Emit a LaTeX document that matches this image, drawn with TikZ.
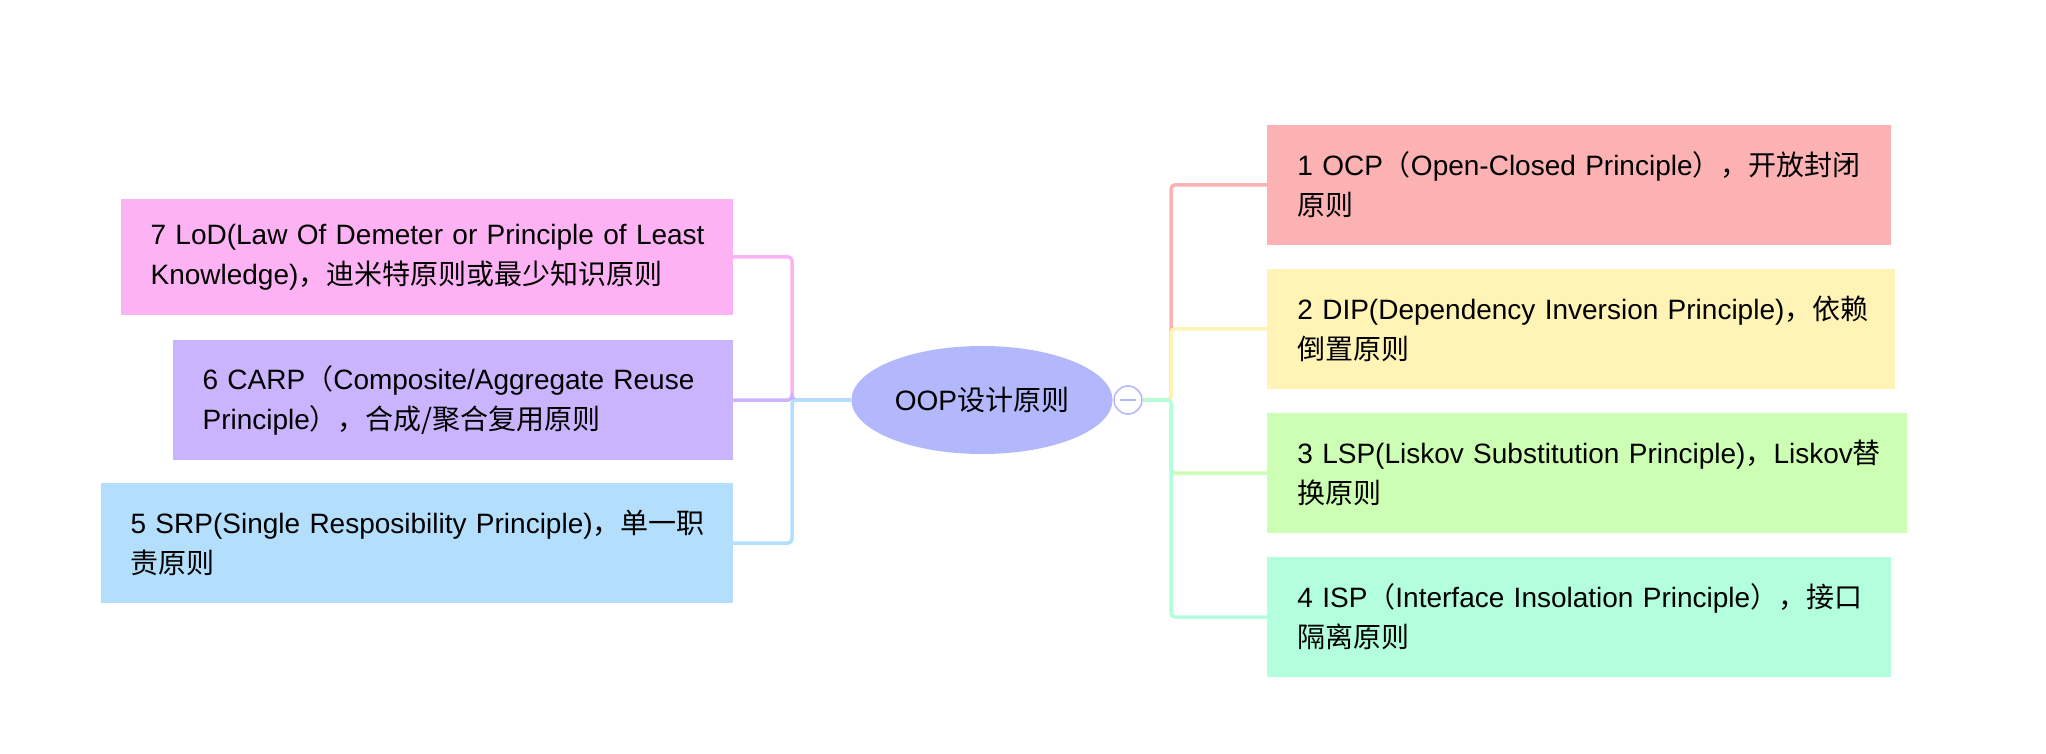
\documentclass[tikz,border=0pt]{standalone}
\usepackage{fontspec}
\setmainfont{Liberation Sans}
\newfontfamily\cjk{Noto Sans CJK SC}
\newcommand{\zhtxt}[1]{{\cjk #1}}
\newcommand{\tline}[1]{\mbox{#1}}
\usetikzlibrary{shapes.geometric}
\definecolor{rootblue}{HTML}{B3B8FD}
\definecolor{ocpred}{HTML}{FCB1B3}
\definecolor{dipyellow}{HTML}{FFF3B5}
\definecolor{lspgreen}{HTML}{CCFFB3}
\definecolor{ispmint}{HTML}{B3FFDD}
\definecolor{lodpink}{HTML}{FDB3F3}
\definecolor{carppurple}{HTML}{C9B4FD}
\definecolor{srpblue}{HTML}{B3DFFD}

\begin{document}
\begin{tikzpicture}[x=0.5pt,y=-0.5pt,
    topic/.style={rectangle, inner xsep=15pt, inner ysep=0pt, minimum height=60pt,
      align=left, font=\fontsize{14pt}{20pt}\selectfont},
    link/.style={line width=1.75pt, rounded corners=2pt}]
  \useasboundingbox (0,0) rectangle (2046,754);

  \node[ellipse, fill=rootblue, minimum width=130.5pt, minimum height=54pt, inner sep=0pt,
    font=\fontsize{14pt}{20pt}\selectfont] (root) at (982,400) {OOP\zhtxt{设计原则}};
  \node[circle, draw=rootblue, line width=0.75pt, fill=white, minimum size=14pt,
    inner sep=0pt] (fold) at (1128,400) {};
  \draw[rootblue, line width=0.75pt] ([xshift=-4pt]fold.center) -- ([xshift=4pt]fold.center);

  \node[topic, fill=ocpred, text width=282pt, anchor=west] (ocp) at (1267,185)
    {\tline{1 OCP\zhtxt{（}Open-Closed Principle\zhtxt{），开放封闭}}\\\zhtxt{原则}};
  \node[topic, fill=dipyellow, text width=284pt, anchor=west] (dip) at (1267,329)
    {\tline{2 DIP(Dependency Inversion Principle)\zhtxt{，依赖}}\\\zhtxt{倒置原则}};
  \node[topic, fill=lspgreen, text width=290pt, anchor=west] (lsp) at (1267,473)
    {\tline{3 LSP(Liskov Substitution Principle)\zhtxt{，}Liskov\zhtxt{替}}\\\zhtxt{换原则}};
  \node[topic, fill=ispmint, text width=282pt, anchor=west] (isp) at (1267,617)
    {\tline{4 ISP\zhtxt{（}Interface Insolation Principle\zhtxt{），接口}}\\\zhtxt{隔离原则}};

  \node[topic, fill=lodpink, text width=276pt, minimum height=58pt, anchor=east] (lod) at (733,257)
    {\tline{7 LoD(Law Of Demeter or Principle of Least}\\\tline{Knowledge)\zhtxt{，迪米特原则或最少知识原则}}};
  \node[topic, fill=carppurple, text width=250pt, anchor=east] (carp) at (733,400)
    {\tline{6 CARP\zhtxt{（}Composite/Aggregate Reuse}\\\tline{Principle\zhtxt{），合成/聚合复用原则}}};
  \node[topic, fill=srpblue, text width=286pt, anchor=east] (srp) at (733,543)
    {\tline{5 SRP(Single Resposibility Principle)\zhtxt{，单一职}}\\\zhtxt{责原则}};

  \coordinate (lj) at (792,400);
  \coordinate (rj) at (1171,400);
  \draw[link, lodpink] (root.west) -- (lj) |- (lod.east);
  \draw[link, carppurple] (root.west) -- (lj) |- (carp.east);
  \draw[link, srpblue] (root.west) -- (lj) |- (srp.east);
  \draw[link, ocpred] (fold.east) -- (rj) |- (ocp.west);
  \draw[link, dipyellow] (fold.east) -- (rj) |- (dip.west);
  \draw[link, lspgreen] (fold.east) -- (rj) |- (lsp.west);
  \draw[link, ispmint] (fold.east) -- (rj) |- (isp.west);
\end{tikzpicture}
\end{document}
